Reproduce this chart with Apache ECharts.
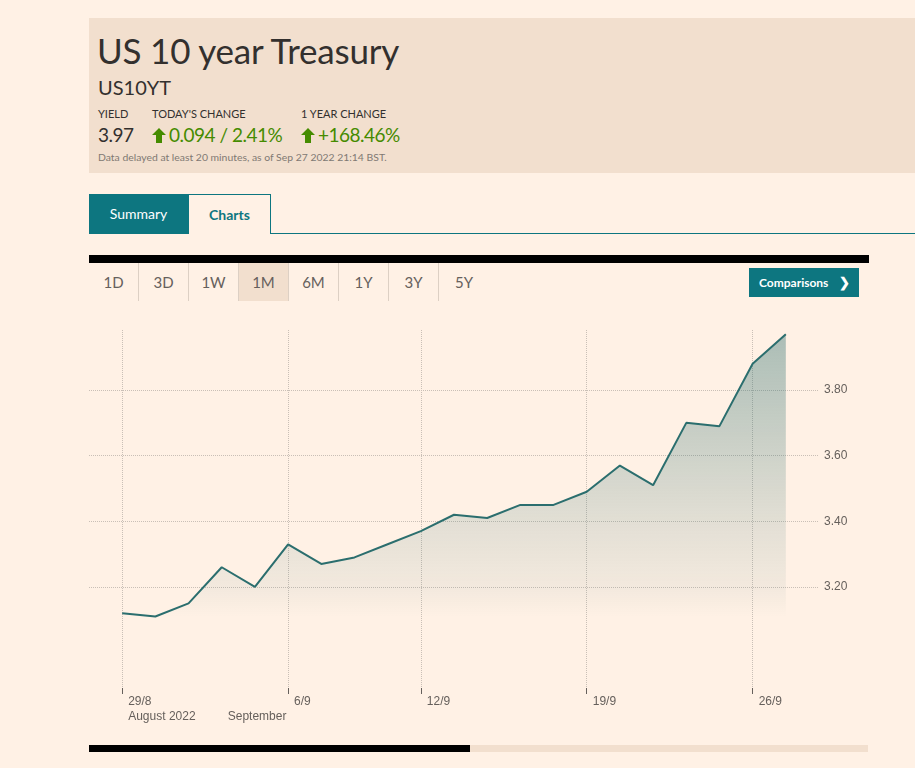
<!DOCTYPE html>
<html>
<head>
<meta charset="utf-8">
<script src="https://cdn.jsdelivr.net/npm/echarts@6/dist/echarts.min.js"></script>
<style>
  body { margin: 0; width: 915px; height: 768px; background: #fff1e5; position: relative; overflow: hidden; font-family: Lato, "Open Sans", sans-serif; color: #33302e; }
  .abs { position: absolute; white-space: nowrap; }
  .head { left: 89px; top: 18px; width: 826px; height: 155px; background: #f2dfce; }
  .title { left: 97px; top: 28px; font-size: 35px; line-height: 44px; letter-spacing: -0.2px; }
  .code { left: 98px; top: 74px; font-size: 20px; line-height: 26px; }
  .lbl { top: 107px; font-size: 11px; line-height: 14px; }
  .val { top: 123px; font-size: 19px; line-height: 24px; letter-spacing: -0.5px; }
  .green { color: #458b00; }
  .green svg { vertical-align: -1px; margin-right: 3px; }
  .note { left: 98px; top: 151px; font-size: 10.4px; line-height: 12px; color: #807973; }
  .tab { top: 194px; height: 40px; line-height: 40px; font-size: 14px; text-align: center; box-sizing: border-box; }
  .btn { top: 263px; width: 50px; height: 38px; line-height: 38px; text-align: center; font-size: 15px; color: #66605c; box-sizing: border-box; border-right: 1px solid #ddd0c4; }
  #chart { position: absolute; left: 0; top: 310px; width: 915px; height: 420px; }
</style>
</head>
<body>
<div class="abs head"></div>
<div class="abs title">US 10 year Treasury</div>
<div class="abs code">US10YT</div>
<div class="abs lbl" style="left:98px">YIELD</div>
<div class="abs lbl" style="left:152px">TODAY'S CHANGE</div>
<div class="abs lbl" style="left:301px">1 YEAR CHANGE</div>
<div class="abs val" style="left:98px">3.97</div>
<div class="abs val green" style="left:152px"><svg width="14" height="15" viewBox="0 0 14 15"><path d="M7 0 L14 7 L10 7 L10 15 L4 15 L4 7 L0 7 Z" fill="#458b00"/></svg>0.094 / 2.41%</div>
<div class="abs val green" style="left:301px"><svg width="14" height="15" viewBox="0 0 14 15"><path d="M7 0 L14 7 L10 7 L10 15 L4 15 L4 7 L0 7 Z" fill="#458b00"/></svg>+168.46%</div>
<div class="abs note">Data delayed at least 20 minutes, as of Sep 27 2022 21:14 BST.</div>

<div class="abs tab" style="left:89px;width:99px;background:#0d7680;color:#fff">Summary</div>
<div class="abs tab" style="left:188px;width:83px;border:1px solid #0d7680;border-bottom:none;color:#0d7680;font-weight:bold">Charts</div>
<div class="abs" style="left:270px;top:233px;width:645px;height:1px;background:#0d7680"></div>

<div class="abs" style="left:89px;top:255px;width:780px;height:8px;background:#000"></div>
<div class="abs btn" style="left:89px">1D</div>
<div class="abs btn" style="left:139px">3D</div>
<div class="abs btn" style="left:189px">1W</div>
<div class="abs btn" style="left:239px;background:#f2dfce">1M</div>
<div class="abs btn" style="left:289px">6M</div>
<div class="abs btn" style="left:339px">1Y</div>
<div class="abs btn" style="left:389px">3Y</div>
<div class="abs btn" style="left:439px;border-right:none">5Y</div>
<div class="abs" style="left:749px;top:268px;width:110px;height:29px;line-height:29px;background:#0d7680;color:#fff;font-size:12px;font-weight:bold;padding-left:10px;box-sizing:border-box">Comparisons<span style="position:absolute;right:9px;font-size:13px">&#x276F;</span></div>

<div id="chart"></div>

<div class="abs" style="left:89px;top:745px;width:381px;height:7px;background:#000"></div>
<div class="abs" style="left:470px;top:745px;width:398px;height:7px;background:#f2dfce"></div>

<script>
// trading days shown on the 1M view (5/9 is a US holiday)
const dates = ['29/8', '30/8', '31/8', '1/9', '2/9', '6/9', '7/9', '8/9', '9/9', '12/9', '13/9',
  '14/9', '15/9', '16/9', '19/9', '20/9', '21/9', '22/9', '23/9', '26/9', '27/9']
const yields = [3.12, 3.11, 3.15, 3.26, 3.20, 3.33, 3.27, 3.29, 3.33, 3.37, 3.42,
  3.41, 3.45, 3.45, 3.49, 3.57, 3.51, 3.70, 3.69, 3.88, 3.97]
const dateTicks = ['29/8', '6/9', '12/9', '19/9', '26/9']
const monthStarts = ['29/8', '1/9']
const monthNames = ['August 2022', 'September']
const yTicks = [3.20, 3.40, 3.60, 3.80]

const labelColor = '#66605c'
const dotColor = '#c9bfb6'

let chart = echarts.init(document.getElementById('chart'))
chart.setOption({
  animation: false,
  grid: {
    left: 89,
    right: 96,
    top: 20,
    bottom: 42
  },
  xAxis: [
    {
      type: 'value',
      min: -1,
      max: dates.length,
      axisLine: { show: false },
      axisTick: {
        show: true,
        length: 6,
        customValues: dateTicks.map(d => dates.indexOf(d)),
        lineStyle: { color: labelColor }
      },
      axisLabel: {
        customValues: dateTicks.map(d => dates.indexOf(d)),
        formatter: v => dates[v],
        align: 'left',
        padding: [0, 0, 0, 6],
        margin: 8,
        color: labelColor,
        fontSize: 12,
        fontFamily: 'Liberation Sans, Arial'
      },
      splitLine: {
        show: true,
        lineStyle: { type: 'dotted', color: dotColor }
      }
    },
    {
      type: 'value',
      position: 'bottom',
      offset: 15,
      min: -1,
      max: dates.length,
      axisLine: { show: false },
      axisTick: { show: false, customValues: monthStarts.map(d => dates.indexOf(d)) },
      splitLine: { show: false },
      axisLabel: {
        customValues: monthStarts.map(d => dates.indexOf(d)),
        formatter: v => monthNames[monthStarts.indexOf(dates[v])],
        align: 'left',
        padding: [0, 0, 0, 6],
        margin: 8,
        color: labelColor,
        fontSize: 12,
        fontFamily: 'Liberation Sans, Arial'
      }
    }
  ],
  yAxis: {
    type: 'value',
    position: 'right',
    min: 2.892,
    max: 3.983,
    axisLine: { show: false },
    axisTick: { show: false, customValues: yTicks },
    axisLabel: {
      customValues: yTicks,
      formatter: v => v.toFixed(2),
      margin: 5,
      color: labelColor,
      fontSize: 12,
      fontFamily: 'Liberation Sans, Arial'
    },
    splitLine: {
      show: true,
      lineStyle: { type: 'dotted', color: dotColor }
    }
  },
  series: [
    {
      type: 'line',
      data: yields.map((v, i) => [i, v]),
      symbol: 'none',
      lineStyle: { color: '#2b6e6e', width: 2 },
      areaStyle: {
        origin: 'start',
        color: new echarts.graphic.LinearGradient(0, 0, 0, 1, [
          { offset: 0, color: 'rgba(43,110,110,0.56)' },
          { offset: 0.35, color: 'rgba(43,110,110,0.32)' },
          { offset: 0.55, color: 'rgba(43,110,110,0.18)' },
          { offset: 0.72, color: 'rgba(43,110,110,0.08)' },
          { offset: 0.8, color: 'rgba(43,110,110,0)' }
        ])
      }
    }
  ]
})
</script>
</body>
</html>
